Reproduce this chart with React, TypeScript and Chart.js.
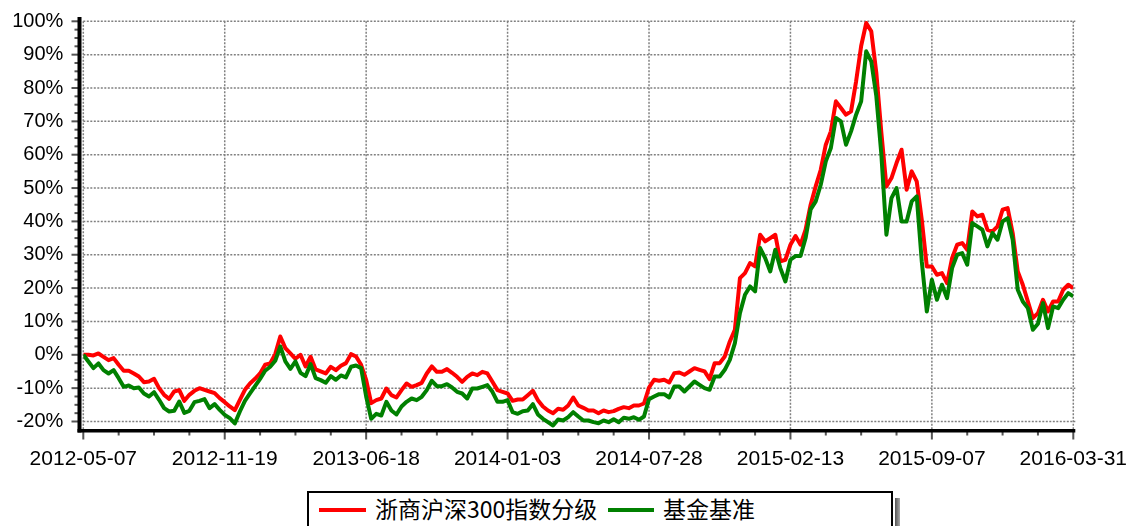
import React, { useEffect, useRef } from "react";
import { Chart, registerables } from "chart.js";

Chart.register(...registerables);

const dateLabels = [
  "2012-05-07",
  "2012-11-19",
  "2013-06-18",
  "2014-01-03",
  "2014-07-28",
  "2015-02-13",
  "2015-09-07",
  "2016-03-31",
];

const seriesNames = ["浙商沪深300指数分级", "基金基准"];

const fundValues = [
  0, 0, -0.2, 0.4, -0.6, -1.6, -1.0, -3.0, -4.8, -4.8,
  -5.6, -6.5, -8.2, -8.0, -7.2, -10.0, -12.0, -13.2, -11.0, -10.6,
  -13.8, -12.0, -10.8, -10.0, -10.5, -11.0, -11.5, -13.0, -14.2, -15.5,
  -16.6, -13.5, -10.5, -8.6, -7.2, -5.6, -3.0, -2.6, 0.2, 5.5,
  2.0, 0.4, -1.2, 0.0, -3.5, -0.6, -4.4, -5.0, -5.6, -3.6,
  -4.6, -3.3, -2.5, 0.2, -0.5, -3.0, -7.5, -14.5, -13.6, -13.1,
  -10.1, -12.1, -12.8, -10.6, -8.6, -9.6, -9.1, -8.4, -5.6, -3.5,
  -5.1, -5.1, -4.3, -5.4, -6.6, -8.1, -6.6, -5.6, -6.1, -5.1,
  -5.6, -8.1, -10.6, -11.1, -11.6, -13.8, -13.4, -13.4, -12.1, -10.8,
  -13.6, -15.5, -16.7, -17.5, -16.2, -16.5, -15.2, -12.8, -15.2, -15.9,
  -16.7, -16.7, -17.5, -16.7, -17.2, -16.9, -16.2, -15.7, -16.0, -15.2,
  -15.2, -14.6, -9.8, -7.5, -7.8, -7.5, -8.3, -5.5, -5.3, -6.0,
  -5.0, -4.0, -4.5, -5.0, -7.3, -2.5, -2.5, -0.5, 4.0, 7.5,
  23.0, 24.5, 27.5, 26.5, 36.0, 34.0, 35.0, 36.0, 28.0, 28.5,
  33.0, 35.6, 33.0, 37.5, 45.0, 50.5, 55.5, 63.0, 67.0, 76.0,
  74.0, 72.0, 73.0, 82.0, 92.6, 99.5, 97.0, 84.6, 66.6, 50.5,
  53.0, 57.5, 61.5, 49.5, 55.0, 52.0, 40.5, 26.5, 26.5, 24.0,
  24.5, 21.5, 29.0, 33.0, 33.5, 31.5, 43.0, 41.5, 42.0, 37.5,
  37.0, 38.5, 43.5, 44.0, 36.5, 25.0, 21.0, 16.0, 11.0, 12.5,
  16.5, 13.0, 16.0, 16.0, 19.5, 21.0, 20.0,
];

const benchmarkValues = [
  0, -2.0, -4.0, -2.6, -4.6, -5.6, -4.6, -7.0, -9.6, -9.2,
  -10.0, -9.8, -11.6, -12.5, -11.2, -13.5, -16.0, -17.0, -16.8, -14.0,
  -17.4, -16.8, -14.2, -13.8, -13.3, -16.0, -14.8, -16.5, -18.0, -19.0,
  -20.6, -17.0, -13.8, -11.6, -9.4, -7.2, -4.8, -3.6, -1.8, 2.5,
  -2.0, -4.2, -2.0, -5.4, -6.4, -2.8, -7.0, -7.6, -8.4, -6.4,
  -7.5, -6.2, -6.8, -3.6, -3.2, -4.0, -12.5, -19.2, -17.7, -18.2,
  -14.1, -16.7, -17.9, -15.5, -14.1, -13.1, -13.6, -12.6, -10.6, -7.8,
  -9.4, -9.4, -8.8, -9.8, -11.1, -11.6, -13.1, -10.1, -10.1, -9.6,
  -9.1, -11.1, -14.1, -14.1, -13.6, -17.2, -17.7, -16.9, -16.7, -14.8,
  -17.9, -19.2, -20.2, -21.2, -19.4, -19.7, -18.7, -17.2, -18.5, -19.7,
  -19.7, -20.2, -20.5, -19.7, -20.2, -19.3, -20.2, -18.9, -19.2, -18.7,
  -19.5, -18.5, -13.3, -12.5, -11.8, -11.8, -12.8, -9.5, -9.5, -11.0,
  -9.5, -8.0, -9.0, -10.0, -10.5, -6.5, -6.5, -4.5, -1.5, 3.5,
  12.5, 18.0, 20.5, 19.0, 32.0, 29.0, 25.0, 31.5, 26.0, 22.0,
  28.5, 29.6, 29.6, 35.0, 43.6, 46.0, 51.0, 58.0, 62.0, 71.0,
  70.0, 63.0, 67.0, 72.0, 76.0, 91.0, 88.0, 77.6, 60.0, 36.0,
  47.0, 50.0, 40.0, 40.0, 46.0, 47.5, 28.0, 13.0, 22.5, 16.5,
  21.0, 17.0, 26.0, 30.0, 30.5, 27.0, 39.5, 38.5, 37.5, 32.5,
  36.5, 34.5, 40.0, 41.0, 34.5, 19.5, 16.0, 14.0, 7.5, 9.3,
  15.5, 8.0, 14.5, 14.0, 16.5, 18.5, 17.5,
];

const yTickValues = [-20, -10, 0, 10, 20, 30, 40, 50, 60, 70, 80, 90, 100];
const majorStep = 28;
const minorStep = 7;
const yMinorStep = 2.5;

const latin = '"Liberation Sans", Arial, sans-serif';
const cjk = '"Noto Sans CJK SC", "Noto Sans", sans-serif';

export default function App() {
  const ref = useRef<HTMLCanvasElement>(null);

  useEffect(() => {
    const canvas = ref.current;
    if (!canvas) return;
    const lastIndex = fundValues.length - 1;

    const framePlugin = {
      id: "frame",
      beforeDatasetsDraw(chart: any) {
        const { ctx, chartArea, scales } = chart;
        const x = scales.x;
        const y = scales.y;
        ctx.save();
        ctx.strokeStyle = "#808080";
        ctx.lineWidth = 1.5;
        ctx.setLineDash([2, 1.5]);
        const right = x.getPixelForValue(lastIndex) + 2;
        for (const v of yTickValues) {
          const py = y.getPixelForValue(v);
          ctx.beginPath();
          ctx.moveTo(chartArea.left, py);
          ctx.lineTo(right, py);
          ctx.stroke();
        }
        const top = y.getPixelForValue(100);
        for (let i = 0; i <= lastIndex; i += majorStep) {
          const px = x.getPixelForValue(i);
          ctx.beginPath();
          ctx.moveTo(px, top);
          ctx.lineTo(px, chartArea.bottom);
          ctx.stroke();
        }
        ctx.restore();
      },
      afterDatasetsDraw(chart: any) {
        const { ctx, chartArea, scales } = chart;
        const x = scales.x;
        const y = scales.y;
        ctx.save();
        ctx.fillStyle = "#555";
        for (let i = 0; i <= lastIndex; i += minorStep) {
          const px = x.getPixelForValue(i);
          const len = i % majorStep === 0 ? 9 : 5;
          ctx.fillRect(px - 1, chartArea.bottom, 2, len);
        }
        for (let v = -20; v <= 100; v += yMinorStep) {
          const py = y.getPixelForValue(v);
          const major = Math.abs(v % 10) < 1e-6;
          if (major) ctx.fillRect(71.5, py - 1, 7, 2);
          else ctx.fillRect(74.5, py - 1, 4, 2);
        }
        ctx.fillStyle = "#000";
        ctx.fillRect(77.5, chartArea.top, 4, chartArea.bottom - chartArea.top + 2);
        ctx.fillRect(77.5, chartArea.bottom - 1.5, x.getPixelForValue(lastIndex) + 2 - 77.5, 3.5);
        ctx.restore();
      },
    };

    const chart = new Chart(canvas, {
      type: "line",
      data: {
        datasets: [
          {
            label: seriesNames[0],
            data: fundValues.map((v, i) => ({ x: i, y: v })),
            borderColor: "#ff0000",
            borderWidth: 4,
            pointRadius: 0,
            tension: 0,
            fill: false,
            order: 1,
            borderJoinStyle: "round",
          },
          {
            label: seriesNames[1],
            data: benchmarkValues.map((v, i) => ({ x: i, y: v })),
            borderColor: "#008000",
            borderWidth: 4,
            pointRadius: 0,
            tension: 0,
            fill: false,
            order: 0,
            borderJoinStyle: "round",
          },
        ],
      },
      options: {
        animation: false,
        responsive: false,
        maintainAspectRatio: false,
        layout: { padding: { top: 17, right: 53.7, left: 0, bottom: 0 } },
        plugins: { legend: { display: false }, tooltip: { enabled: false } },
        scales: {
          x: {
            type: "linear",
            min: 0,
            max: lastIndex,
            grid: { display: false, drawTicks: false },
            border: { display: false },
            afterBuildTicks: (s: any) => {
              s.ticks = dateLabels.map((_, k) => ({ value: k * majorStep }));
            },
            afterFit: (s: any) => {
              s.height = 95.5;
              s.paddingLeft = 0;
              s.paddingRight = 0;
            },
            ticks: {
              autoSkip: false,
              maxRotation: 0,
              minRotation: 0,
              padding: 16,
              color: "#000",
              font: { family: latin, size: 21 },
              callback: (_v: any, idx: number) => dateLabels[idx],
            },
          },
          y: {
            type: "linear",
            min: -22.7,
            max: 101.29,
            grid: { display: false, drawTicks: false },
            border: { display: false },
            afterBuildTicks: (s: any) => {
              s.ticks = yTickValues.map((v) => ({ value: v }));
            },
            afterFit: (s: any) => {
              s.width = 83.3;
              s.paddingTop = 0;
              s.paddingBottom = 0;
            },
            ticks: {
              padding: 20,
              color: "#000",
              font: { family: latin, size: 20 },
              callback: (v: any) => `${v}%`,
            },
          },
        },
      },
      plugins: [framePlugin],
    } as any);

    return () => chart.destroy();
  }, []);

  return (
    <div
      style={{
        position: "fixed",
        left: 0,
        top: 0,
        width: 1127,
        height: 526,
        overflow: "hidden",
        background: "#fff",
      }}
    >
      <canvas ref={ref} width={1127} height={526} style={{ display: "block" }} />
      <div
        style={{
          position: "absolute",
          left: 895,
          top: 498,
          width: 5,
          height: 40,
          background: "linear-gradient(to right, #555, #aaa)",
        }}
      />
      <div
        style={{
          position: "absolute",
          left: 307,
          top: 491,
          width: 586,
          height: 60,
          boxSizing: "border-box",
          border: "2px solid #000",
          background: "#fff",
        }}
      />
      <div style={{ position: "absolute", left: 319, top: 507.5, width: 47, height: 4, background: "#ff0000" }} />
      <span
        style={{
          position: "absolute",
          left: 375,
          top: 493,
          fontFamily: cjk,
          fontSize: 23,
          lineHeight: "30px",
          color: "#000",
          whiteSpace: "nowrap",
        }}
      >
        {seriesNames[0]}
      </span>
      <div style={{ position: "absolute", left: 608, top: 507.5, width: 46, height: 4, background: "#008000" }} />
      <span
        style={{
          position: "absolute",
          left: 663,
          top: 493,
          fontFamily: cjk,
          fontSize: 23,
          lineHeight: "30px",
          color: "#000",
          whiteSpace: "nowrap",
        }}
      >
        {seriesNames[1]}
      </span>
    </div>
  );
}
